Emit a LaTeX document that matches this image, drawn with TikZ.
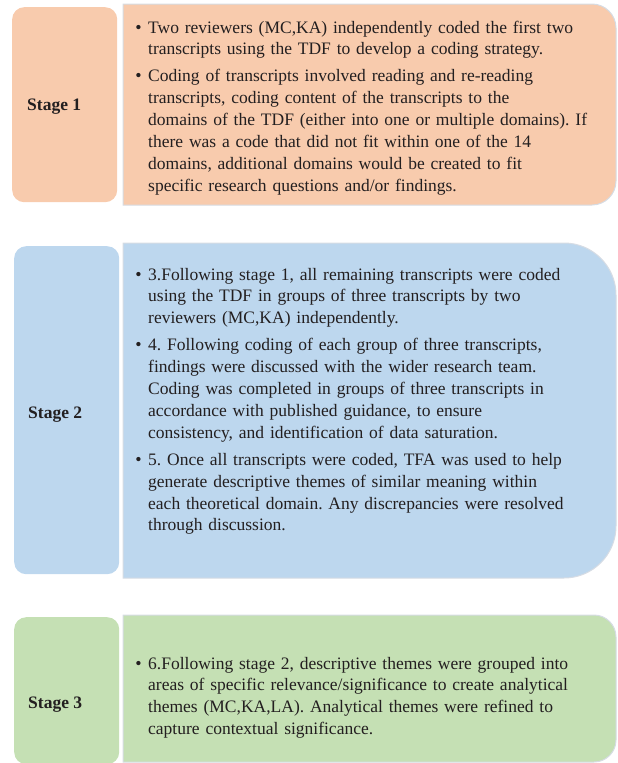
\documentclass[tikz,border=0pt]{standalone}
\usepackage{fontspec}
\setmainfont{Liberation Serif}
\usepackage{tikz}
\usetikzlibrary{positioning}

\definecolor{stageone}{HTML}{F8CBAD}
\definecolor{stagetwo}{HTML}{BDD7EE}
\definecolor{stagethree}{HTML}{C5E0B4}
\definecolor{panelline}{HTML}{D6DCE4}
\definecolor{inktext}{HTML}{231F20}

\newcommand{\bitem}{\noindent\llap{\raisebox{0pt}{\fontsize{18}{18}\selectfont\textbullet}\hspace{6.5pt}}}
\newcommand{\nextitem}{\par\vspace{5pt}\bitem}

\begin{document}
\frenchspacing
\begin{tikzpicture}[x=1pt,y=-1pt]

\pgfdeclarelayer{background}
\pgfsetlayers{background,main}

\tikzstyle{stagebox} = [rounded corners=12pt, minimum width=105pt, anchor=north west, inner sep=0pt]
\tikzstyle{stagelabel} = [anchor=base west, inner sep=0pt, text=inktext, font=\fontsize{17.5}{20}\selectfont\bfseries]
\tikzstyle{stagetext} = [anchor=base west, inner sep=0pt, text width=465pt, text=inktext, font=\fontsize{17.5}{21.9}\selectfont]
\tikzstyle{panel} = [draw=panelline, line width=1pt]

\newcommand{\stagePanel}[6]{%
\begin{pgfonlayer}{background}
    \path[panel, fill=#6] (#1,#4) -- (#1,#2) [rounded corners=#5] -- (#3,#2)
      -- (#3,#4) [sharp corners] -- cycle;
\end{pgfonlayer}}

\useasboundingbox (0,0) rectangle (618,763);

% stage 1
\node (b1) [stagebox, fill=stageone, minimum height=195pt] at (12,7) {};
\node (s1) [stagelabel] at (27,110) {Stage 1};
\node (t1) [stagetext] at (148,33) {%
\bitem Two reviewers (MC,KA) independently coded the first two\\
transcripts using the TDF to develop a coding strategy.
\nextitem Coding of transcripts involved reading and re-reading\\
transcripts, coding content of the transcripts to the\\
domains of the TDF (either into one or multiple domains). If\\
there was a code that did not fit within one of the 14\\
domains, additional domains would be created to fit\\
specific research questions and/or findings.};
\stagePanel{123}{4}{616}{205}{24pt}{stageone}

% stage 2
\node (b2) [stagebox, fill=stagetwo, minimum height=328pt] at (14,246) {};
\node (s2) [stagelabel] at (28,418) {Stage 2};
\node (t2) [stagetext] at (148,280) {%
\bitem 3.Following stage 1, all remaining transcripts were coded\\
using the TDF in groups of three transcripts by two\\
reviewers (MC,KA) independently.
\nextitem 4. Following coding of each group of three transcripts,\\
findings were discussed with the wider research team.\\
Coding was completed in groups of three transcripts in\\
accordance with published guidance, to ensure\\
consistency, and identification of data saturation.
\nextitem 5. Once all transcripts were coded, TFA was used to help\\
generate descriptive themes of similar meaning within\\
each theoretical domain. Any discrepancies were resolved\\
through discussion.};
\stagePanel{123}{243}{616}{578}{52pt}{stagetwo}

% stage 3
\node (b3) [stagebox, fill=stagethree, minimum height=147pt] at (14,617) {};
\node (s3) [stagelabel] at (28,708) {Stage 3};
\node (t3) [stagetext] at (148,669) {%
\bitem 6.Following stage 2, descriptive themes were grouped into\\
areas of specific relevance/significance to create analytical\\
themes (MC,KA,LA). Analytical themes were refined to\\
capture contextual significance.};
\stagePanel{123}{615}{616}{762}{22pt}{stagethree}

\end{tikzpicture}
\end{document}
